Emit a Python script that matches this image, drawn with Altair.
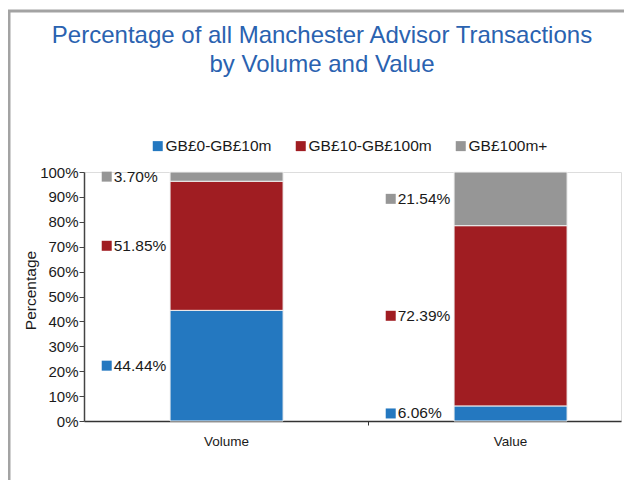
import json
import altair as alt
import pandas as pd

# ---- data ----
categories = ["Volume", "Value"]
segments = ["GB£0-GB£10m", "GB£10-GB£100m", "GB£100m+"]
volume_pct = [44.44, 51.85, 3.70]
value_pct = [6.06, 72.39, 21.54]
seg_colors = ["#2478C0", "#A01D22", "#969696"]
y_ticks = [0, 10, 20, 30, 40, 50, 60, 70, 80, 90, 100]

rows = []
for ci, (cat, vals) in enumerate(zip(categories, [volume_pct, value_pct])):
    for si, (seg, v) in enumerate(zip(segments, vals)):
        rows.append({"category": cat, "idx": ci, "segment": seg, "order": si, "pct": v})
df = pd.DataFrame(rows)

FONT = "Liberation Sans"
TXT = "#1a1a1a"
BAND = 284          # pixels per category band
W, H = 537, 249     # plot area

base = alt.Chart(df).transform_stack(
    stack="pct", groupby=["category"], as_=["y0", "y1"],
    sort=[alt.SortField("order", order="ascending")],
).transform_calculate(
    xa="datum.idx + 0.303",
    xb="datum.idx + 0.701",
    xl="datum.idx + 0.08",
    ymid="(datum.y0 + datum.y1) / 2",
    label="format(datum.pct, '.2f') + '%'",
)

xscale = alt.Scale(domain=[0, W / BAND], nice=False, zero=False)
yscale = alt.Scale(domain=[0, 100], nice=False, zero=True)
cscale = alt.Scale(domain=segments, range=seg_colors)

x_axis = alt.Axis(
    values=[0.5, 1.5],
    labelExpr=f"{json.dumps(categories)}[floor(datum.value)]",
    tickOffset=BAND / 2, labelOffset=-BAND / 2,
    tickSize=4, labelPadding=9, labelFontSize=13.5, labelColor=TXT,
    labelFont=FONT, labelFlush=False, domainColor="#333333", tickColor="#333333",
    domainWidth=1.5, grid=False, title=None,
)
y_axis = alt.Axis(
    values=y_ticks, tickCount=11, labelExpr="datum.value + '%'",
    labelOverlap=False, labelFlush=False, labelBound=False,
    tickSize=5, labelPadding=1, labelFontSize=15, labelColor=TXT, labelFont=FONT,
    domainColor="#444444", tickColor="#444444", domainWidth=1.5, grid=False,
    title="Percentage", titleFont=FONT, titleFontSize=15.5, titleFontWeight="normal",
    titleColor=TXT, titleX=-46, titleY=118,
)

legend = alt.Legend(
    title=None, orient="none", legendX=66, legendY=-34, direction="horizontal",
    symbolType="square", symbolSize=100, symbolStrokeWidth=0, symbolOpacity=1,
    labelFontSize=15.5, labelFont=FONT, labelColor=TXT, labelOffset=0,
    columnPadding=21,
)

border = alt.Chart(pd.DataFrame({"k": [0]})).mark_rect(
    filled=False, stroke="#a3a3a3", strokeWidth=3
).encode(x=alt.value(-75), x2=alt.value(800), y=alt.value(-161), y2=alt.value(600))

X = alt.X("xa:Q", scale=xscale, axis=x_axis)
XL = alt.X("xl:Q", scale=xscale, axis=x_axis)
Y = alt.Y("y0:Q", scale=yscale, axis=y_axis)
YM = alt.Y("ymid:Q", scale=yscale, axis=y_axis)

bars = base.mark_bar(stroke="#f0f0f0", strokeWidth=1, opacity=1).encode(
    x=X, x2="xb:Q", y=Y, y2="y1:Q",
    color=alt.Color("segment:N", scale=cscale, sort=segments, legend=legend),
)

squares = base.mark_square(size=100, opacity=1, strokeWidth=0).encode(
    x=XL, y=YM,
    color=alt.Color("segment:N", scale=cscale, sort=segments, legend=legend),
)

labels = base.mark_text(
    align="left", baseline="middle", dx=7, fontSize=15.5, font=FONT, color=TXT
).encode(x=XL, y=YM, text="label:N")

chart = alt.layer(border, bars, squares, labels).properties(
    width=W, height=H,
    autosize=alt.AutoSizeParams(type="none"),
    padding={"left": 76, "top": 164, "right": 3, "bottom": 59},
    title=alt.Title(
        ["Percentage of all Manchester Advisor Transactions", "by Volume and Value"],
        fontSize=24, font=FONT, fontWeight="normal", color="#2A62B0",
        anchor="middle", frame="group", dx=-30.5, dy=77, lineHeight=28.5, offset=10,
    ),
).configure_view(stroke=None).configure(font=FONT)

chart.save("out.html", embed_options={"renderer": "svg", "actions": False})
